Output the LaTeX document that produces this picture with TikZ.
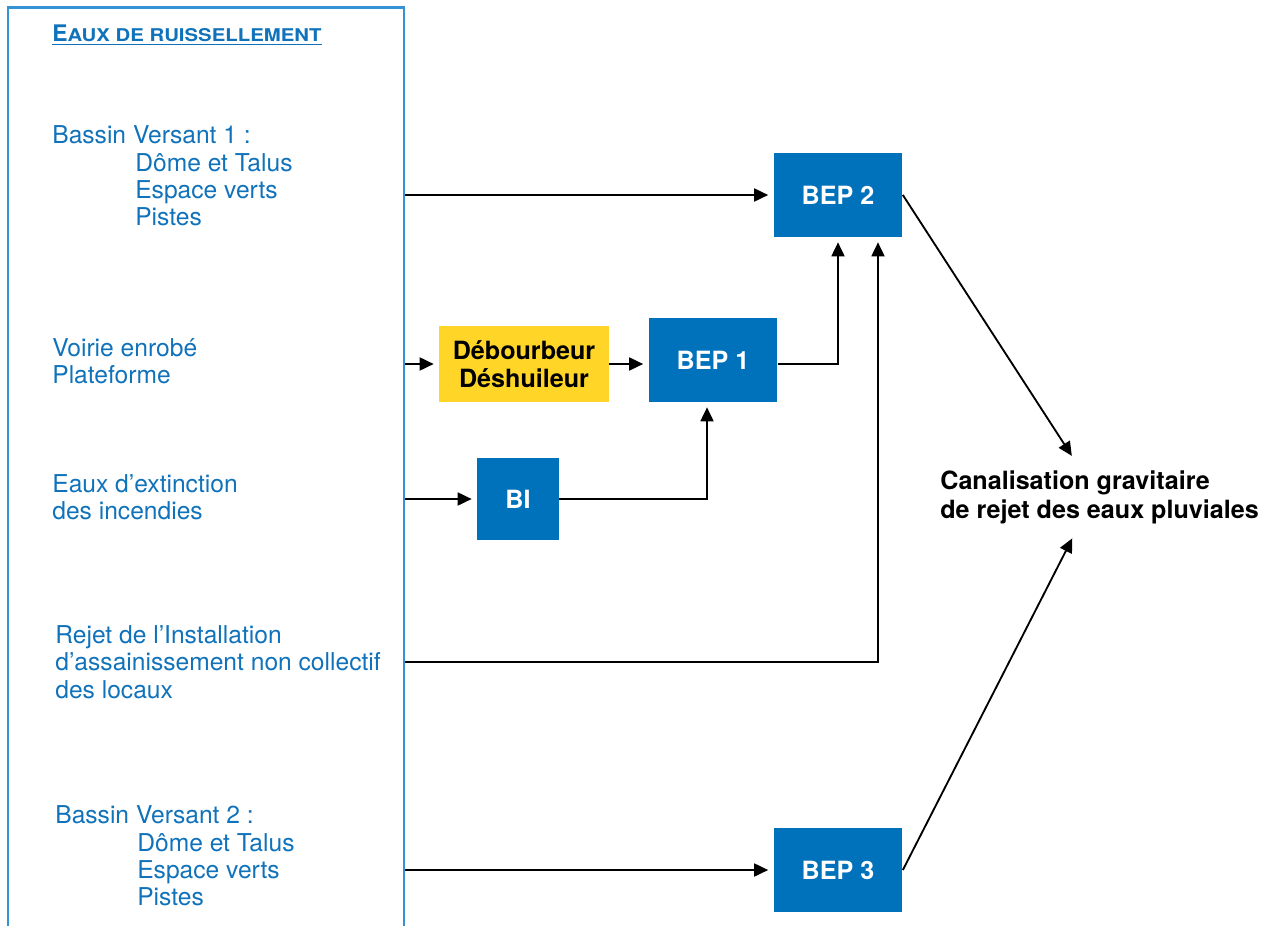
\documentclass[tikz,border=0pt]{standalone}
\usepackage{fontspec}
\setmainfont{TeX Gyre Heros}
\usepackage{graphicx}
\definecolor{eaublue}{RGB}{16,114,186}
\definecolor{bepblue}{RGB}{0,114,187}
\definecolor{cadreblue}{RGB}{52,146,214}
\definecolor{debyellow}{RGB}{255,214,40}
\usetikzlibrary{arrows.meta,positioning,calc}

\begin{document}
\begin{tikzpicture}[x=0.02cm,y=-0.02cm,font=\fontsize{14}{15.5}\selectfont,
  bep/.style={fill=bepblue,text=white,font=\fontsize{14.3}{16}\selectfont\bfseries,minimum width=2.58cm,minimum height=1.68cm},
  source/.style={text=eaublue,align=left,anchor=west,inner sep=0pt},
  flux/.style={-{Triangle[length=2.8mm,width=2.6mm]},line width=1.05pt,shorten >=1mm}]
  \useasboundingbox (0,0) rectangle (1271,926);
  \clip (0,0) rectangle (1271,926);
  % cadre des eaux de ruissellement (ouvert en bas)
  \node[draw=cadreblue,line width=1.3pt,minimum width=7.92cm,minimum height=18.7cm,inner sep=0pt] (cadre) at (206,475) {};
  \node[text=eaublue,anchor=base west,inner sep=0pt] (titre) at (52,42)
    {\underline{\bfseries\fontsize{13}{14}\selectfont E\scalebox{1.16}[1]{\fontsize{10}{11}\selectfont AUX DE RUISSELLEMENT}}};
  % sources
  \node[source] (bv1) at (52,176) {Bassin Versant 1 :\\\hspace*{1.66cm}Dôme et Talus\\\hspace*{1.66cm}Espace verts\\\hspace*{1.66cm}Pistes};
  \node[source] (voirie) at (52,361) {Voirie enrobé\\Plateforme};
  \node[source] (incendie) at (52,497) {Eaux d’extinction\\des incendies};
  \node[source] (rejet) at (55,662) {Rejet de l’Installation\\d’assainissement non collectif\\des locaux};
  \node[source] (bv2) at (55,856) {Bassin Versant 2 :\\\hspace*{1.64cm}Dôme et Talus\\\hspace*{1.64cm}Espace verts\\\hspace*{1.64cm}Pistes};
  % ouvrages
  \node[bep] (bep2) at (838,195) {BEP 2};
  \node[bep,fill=debyellow,text=black,minimum width=3.4cm,minimum height=1.52cm,align=center] (deb) at (524,364) {Débourbeur\\Déshuileur};
  \node[bep] (bep1) at (713,360) {BEP 1};
  \node[bep,minimum width=1.64cm,minimum height=1.66cm] (bi) at (518,499) {BI};
  \node[bep] (bep3) at (838,870) {BEP 3};
  \node[anchor=west,align=left,inner sep=0.2cm,font=\fontsize{14.3}{16.5}\selectfont\bfseries] (canal) at (930,497) {Canalisation gravitaire\\de rejet des eaux pluviales};
  % liaisons
  \draw[flux] (cadre.east |- bep2.west) -- (bep2.west);
  \draw[flux] (cadre.east |- deb.west) -- (deb.west);
  \draw[flux] (deb.east) -- (bep1.west |- deb.east);
  \draw[flux] (cadre.east |- bi.west) -- (bi.west);
  \draw[flux] (bi.east) -| ([xshift=-0.12cm]bep1.south);
  \draw[flux] (bep1.east |- deb.east) -| (bep2.south);
  \draw[flux] (cadre.east |- rejet.east) -| ([xshift=0.8cm]bep2.south);
  \draw[flux] (cadre.east |- bep3.west) -- (bep3.west);
  \draw[flux] (bep2.east) -- ([xshift=-0.5cm]canal.north);
  \draw[flux] (bep3.east) -- ([xshift=-0.5cm]canal.south);
\end{tikzpicture}
\end{document}
